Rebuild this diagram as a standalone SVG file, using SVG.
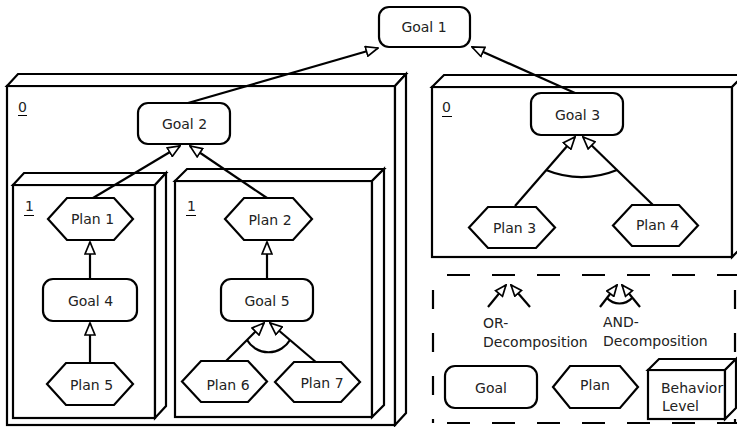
<svg xmlns="http://www.w3.org/2000/svg" width="737" height="427" viewBox="0 0 737 427">
<style>
.box{fill:#fff;stroke:#000;stroke-width:2.2;stroke-linejoin:miter}
.node{fill:#fff;stroke:#000;stroke-width:2.2}
.t{font-family:"DejaVu Sans","Liberation Sans",sans-serif;font-size:14px;fill:#222}
.c{text-anchor:middle}
.ln{fill:none;stroke:#000;stroke-width:2.2}
.dash{fill:none;stroke:#000;stroke-width:2.2}
</style>
<defs>
<marker id="tri" markerUnits="userSpaceOnUse" viewBox="0 0 14 12" refX="13" refY="6" markerWidth="14" markerHeight="12" orient="auto">
<path d="M1,1 L13,6 L1,11 Z" fill="#fff" stroke="#000" stroke-width="1.7"/>
</marker>
<marker id="tris" markerUnits="userSpaceOnUse" viewBox="0 0 13 11" refX="12" refY="5.5" markerWidth="13" markerHeight="11" orient="auto">
<path d="M1,1 L12,5.5 L1,10 Z" fill="#fff" stroke="#000" stroke-width="1.7"/>
</marker>
</defs>
<rect width="737" height="427" fill="#fff"/>

<g id="level0-left">
<rect class="box" x="7" y="86" width="388" height="339"/>
<path class="box" d="M7,86 L18,74 L406,74 L395,86 Z"/>
<path class="box" d="M395,86 L406,74 L406,413 L395,425 Z"/>
<text class="t" x="18" y="112">0</text>
<line x1="18" y1="115.5" x2="27" y2="115.5" stroke="#000" stroke-width="1"/>
</g>

<g id="level1-left">
<rect class="box" x="13" y="185" width="142" height="233"/>
<path class="box" d="M13,185 L24,173 L166,173 L155,185 Z"/>
<path class="box" d="M155,185 L166,173 L166,406 L155,418 Z"/>
<text class="t" x="25" y="211">1</text>
<line x1="24" y1="215.5" x2="34" y2="215.5" stroke="#000" stroke-width="1"/>
</g>

<g id="level1-right">
<rect class="box" x="175" y="181" width="197" height="236"/>
<path class="box" d="M175,181 L187,169 L384,169 L372,181 Z"/>
<path class="box" d="M372,181 L384,169 L384,405 L372,417 Z"/>
<text class="t" x="187" y="211">1</text>
<line x1="186" y1="215.5" x2="196" y2="215.5" stroke="#000" stroke-width="1"/>
</g>

<g id="level0-right">
<rect class="box" x="432" y="87" width="300" height="170"/>
<path class="box" d="M432,87 L444,75 L744,75 L732,87 Z"/>
<path class="box" d="M732,87 L744,75 L744,245 L732,257 Z"/>
<text class="t" x="442" y="112">0</text>
<line x1="442" y1="116.5" x2="452" y2="116.5" stroke="#000" stroke-width="1"/>
</g>

<g id="connectors">
<line class="ln" x1="188" y1="103" x2="378" y2="48" marker-end="url(#tri)"/>
<line class="ln" x1="575" y1="93" x2="472" y2="47" marker-end="url(#tri)"/>
<line class="ln" x1="93" y1="198" x2="180" y2="146" marker-end="url(#tri)"/>
<line class="ln" x1="267" y1="198" x2="190" y2="146" marker-end="url(#tri)"/>
<line class="ln" x1="90" y1="279" x2="90" y2="242" marker-end="url(#tri)"/>
<line class="ln" x1="90" y1="363" x2="90" y2="323" marker-end="url(#tri)"/>
<line class="ln" x1="267" y1="279" x2="267" y2="242" marker-end="url(#tri)"/>
<line class="ln" x1="226" y1="361" x2="264" y2="323" marker-end="url(#tri)"/>
<line class="ln" x1="317" y1="363" x2="270" y2="323" marker-end="url(#tri)"/>
<path class="ln" d="M247,340 A25,25 0 0 0 290,340"/>
<line class="ln" x1="515" y1="206" x2="575" y2="137" marker-end="url(#tri)"/>
<line class="ln" x1="653" y1="205" x2="583" y2="137" marker-end="url(#tri)"/>
<path class="ln" d="M546,170 A93,93 0 0 0 617,170"/>
</g>

<g id="goal1"><rect class="node" x="379" y="7" width="91" height="40" rx="10"/><text class="t c" x="424" y="32">Goal 1</text></g>
<g id="goal2"><rect class="node" x="138" y="103" width="92" height="41" rx="10"/><text class="t c" x="184.5" y="129">Goal 2</text></g>
<g id="goal3"><rect class="node" x="531" y="93" width="92" height="42" rx="10"/><text class="t c" x="577.5" y="119.5">Goal 3</text></g>
<g id="goal4"><rect class="node" x="43" y="279" width="94" height="42" rx="10"/><text class="t c" x="90.5" y="305.5">Goal 4</text></g>
<g id="goal5"><rect class="node" x="221" y="279" width="92" height="42" rx="10"/><text class="t c" x="267" y="305.5">Goal 5</text></g>

<g id="plan1"><polygon class="node" points="48,219 67,198 114,198 133,219 114,240 67,240"/><text class="t c" x="92.5" y="224">Plan 1</text></g>
<g id="plan2"><polygon class="node" points="225,219 244,198 293,198 312,219 293,240 244,240"/><text class="t c" x="270" y="225">Plan 2</text></g>
<g id="plan3"><polygon class="node" points="469,227.5 488,207 536,207 555,227.5 536,248 488,248"/><text class="t c" x="514.5" y="233">Plan 3</text></g>
<g id="plan4"><polygon class="node" points="613,225.5 632,205 679,205 698,225.5 679,246 632,246"/><text class="t c" x="657.5" y="230">Plan 4</text></g>
<g id="plan5"><polygon class="node" points="47,384 66,363 114,363 133,384 114,405 66,405"/><text class="t c" x="91.5" y="390">Plan 5</text></g>
<g id="plan6"><polygon class="node" points="182,381.5 201,361 248,361 267,381.5 248,402 201,402"/><text class="t c" x="228" y="390">Plan 6</text></g>
<g id="plan7"><polygon class="node" points="275,382 294,362 341,362 360,382 341,402 294,402"/><text class="t c" x="322" y="388">Plan 7</text></g>

<g id="legend">
<line class="dash" x1="433" y1="275" x2="737" y2="275" stroke-dasharray="23 22" stroke-dashoffset="31"/>
<line class="dash" x1="433" y1="423" x2="737" y2="423" stroke-dasharray="23 22" stroke-dashoffset="31"/>
<line class="dash" x1="433" y1="275" x2="433" y2="423" stroke-dasharray="19 24" stroke-dashoffset="28"/>
<line class="dash" x1="735" y1="275" x2="735" y2="423" stroke-dasharray="19 24" stroke-dashoffset="28"/>
<g id="legend-or">
<line class="ln" x1="488" y1="307" x2="506" y2="285" marker-end="url(#tris)"/>
<line class="ln" x1="530" y1="307" x2="511" y2="285" marker-end="url(#tris)"/>
<text class="t" x="483" y="328">OR-</text>
<text class="t" x="483" y="347">Decomposition</text>
</g>
<g id="legend-and">
<line class="ln" x1="600" y1="307" x2="617" y2="285" marker-end="url(#tris)"/>
<line class="ln" x1="640" y1="307" x2="622" y2="285" marker-end="url(#tris)"/>
<path class="ln" d="M607,298 A17,17 0 0 0 632,298"/>
<text class="t" x="603" y="327">AND-</text>
<text class="t" x="603" y="346">Decomposition</text>
</g>
<g id="legend-goal"><rect class="node" x="445" y="366" width="92" height="42" rx="10"/><text class="t c" x="491" y="393">Goal</text></g>
<g id="legend-plan"><polygon class="node" points="553,387 570,366 620,366 638,387 620,408 570,408"/><text class="t c" x="595" y="390">Plan</text></g>
<g id="legend-level">
<rect class="box" x="648" y="370" width="77" height="49"/>
<path class="box" d="M648,370 L659,359 L736,359 L725,370 Z"/>
<path class="box" d="M725,370 L736,359 L736,408 L725,419 Z"/>
<text class="t" x="661" y="393">Behavior</text>
<text class="t" x="662" y="411">Level</text>
</g>
</g>
</svg>
